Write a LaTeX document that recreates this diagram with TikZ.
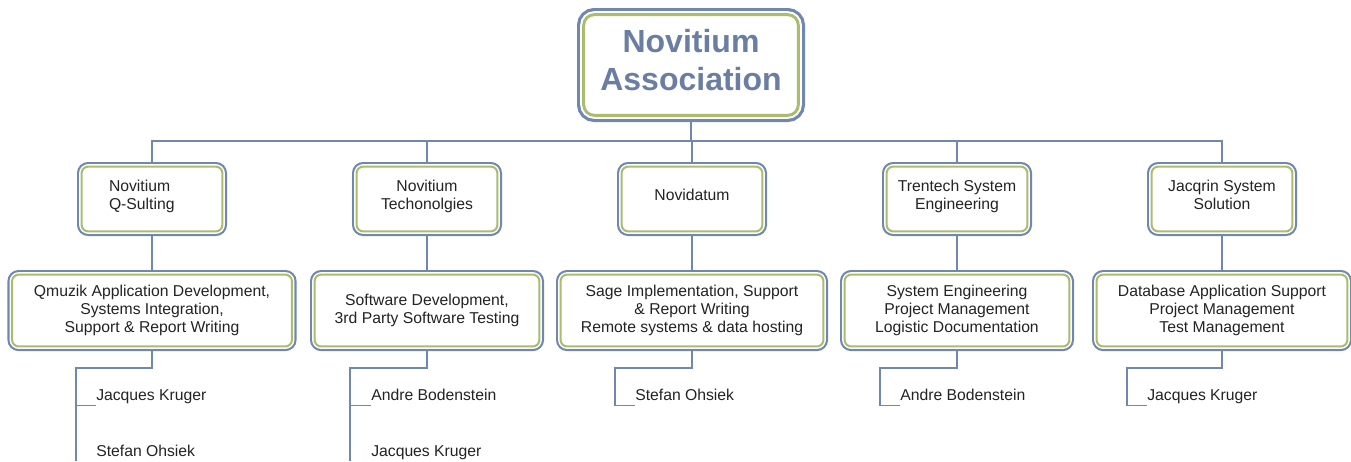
\documentclass[tikz,border=0pt]{standalone}
\usepackage{fontspec}
\setmainfont{Liberation Sans}
\usetikzlibrary{positioning}
\usetikzlibrary{backgrounds}

\definecolor{frameblue}{RGB}{112,135,175}
\definecolor{framegreen}{RGB}{170,188,110}
\definecolor{titleblue}{RGB}{106,125,163}
\definecolor{textgray}{RGB}{35,35,35}

\tikzset{every node/.style={  % Text of every box and name
           align=center,
           text=textgray,
           font=\fontsize{11.8}{13.5}\selectfont},
         card/.style={        % Double frame: blue outside, green inside
           rounded corners=5pt, outer sep=0pt,
           fill=white, draw=framegreen, line width=1.5pt,
           preaction={draw=frameblue, line width=6.9pt},
           preaction={draw=white, line width=3.7pt}},
         unit/.style={        % Companies (second row)
           card, text depth=6.5pt,
           minimum width=105.6pt, minimum height=48.6pt},
         service/.style={     % What each company does (third row)
           card, minimum height=53.9pt},
         head/.style={        % The association on top
           rounded corners=8pt, outer sep=0pt,
           fill=white, draw=framegreen, line width=2.2pt,
           preaction={draw=frameblue, line width=10pt},
           preaction={draw=white, line width=5.2pt},
           minimum width=161pt, minimum height=75.5pt,
           text depth=7pt,
           text=titleblue,
           font=\fontsize{24}{28.5}\selectfont\bfseries},
         person/.style={      % People under a service
           anchor=base west, inner xsep=0pt, inner ysep=1.5pt,
           text depth=2.5pt},
         link/.style={        % Connectors of the tree
           draw=frameblue, line width=1pt}}

\begin{document}
\begin{tikzpicture}[x=0.75pt, y=-0.75pt]
  \useasboundingbox (0,0) rectangle (1351,461);

  \node [head] (assoc) at (691,65) {Novitium\\Association};

  \node [unit, text width=64.5pt, align=left, text depth=20.5pt] (qsult) at (152,199) {Novitium\\Q-Sulting};
  \node [unit] (ntech) at (427,199) {Novitium\\Techonolgies};
  \node [unit] (ndat) at (692,199) {Novidatum};
  \node [unit] (trent) at (957,199) {Trentech System\\Engineering};
  \node [unit] (jacq) at (1222,199) {Jacqrin System\\Solution};

  \node [service, minimum width=209.9pt, below=32.4pt of qsult] (svcqsult) {
    Qmuzik Application Development,\\
    Systems Integration,\\
    Support \& Report Writing};
  \node [service, minimum width=168.6pt, below=32.4pt of ntech] (svcntech) {
    Software Development,\\
    3rd Party Software Testing};
  \node [service, minimum width=197.1pt, below=32.4pt of ndat] (svcndat) {
    Sage Implementation, Support\\
    \& Report Writing\\
    Remote systems \& data hosting};
  \node [service, minimum width=168.6pt, below=32.4pt of trent] (svctrent) {
    System Engineering\\
    Project Management\\
    Logistic Documentation};
  \node [service, minimum width=188.1pt, below=32.4pt of jacq] (svcjacq) {
    Database Application Support\\
    Project Management\\
    Test Management};

  \node [person] (pqsult1) at (96,400) {Jacques Kruger};
  \node [person] (pqsult2) at (96,456) {Stefan Ohsiek};
  \node [person] (pntech1) at (371,400) {Andre Bodenstein};
  \node [person] (pntech2) at (371,456) {Jacques Kruger};
  \node [person] (pndat1) at (635,400) {Stefan Ohsiek};
  \node [person] (ptrent1) at (900,400) {Andre Bodenstein};
  \node [person] (pjacq1) at (1147,400) {Jacques Kruger};

  \coordinate (spine) at (0,141);
  \coordinate (busqsult) at (76,368);
  \coordinate (busntech) at (350,368);
  \coordinate (busndat) at (615,368);
  \coordinate (bustrent) at (880,368);
  \coordinate (busjacq) at (1127,368);
  \coordinate (endqsult) at (76,461);
  \coordinate (endntech) at (350,461);

  \begin{scope}[on background layer]
    \foreach \n in {qsult,ntech,ndat,trent,jacq} {
      \draw [link] (assoc.south) |- (\n.north |- spine) -- (\n.north);
      \draw [link] (\n.south) -- (svc\n.north);
    }

    % people with a second name run on past the page
    \draw [link] (svcqsult.south) |- (busqsult) -- (endqsult);
    \draw [link] (busqsult |- pqsult1.south) -- (pqsult1.south west);
    \draw [link] (svcntech.south) |- (busntech) -- (endntech);
    \draw [link] (busntech |- pntech1.south) -- (pntech1.south west);

    \draw [link] (svcndat.south) |- (busndat) |- (pndat1.south west);
    \draw [link] (svctrent.south) |- (bustrent) |- (ptrent1.south west);
    \draw [link] (svcjacq.south) |- (busjacq) |- (pjacq1.south west);
  \end{scope}
\end{tikzpicture}
\end{document}
